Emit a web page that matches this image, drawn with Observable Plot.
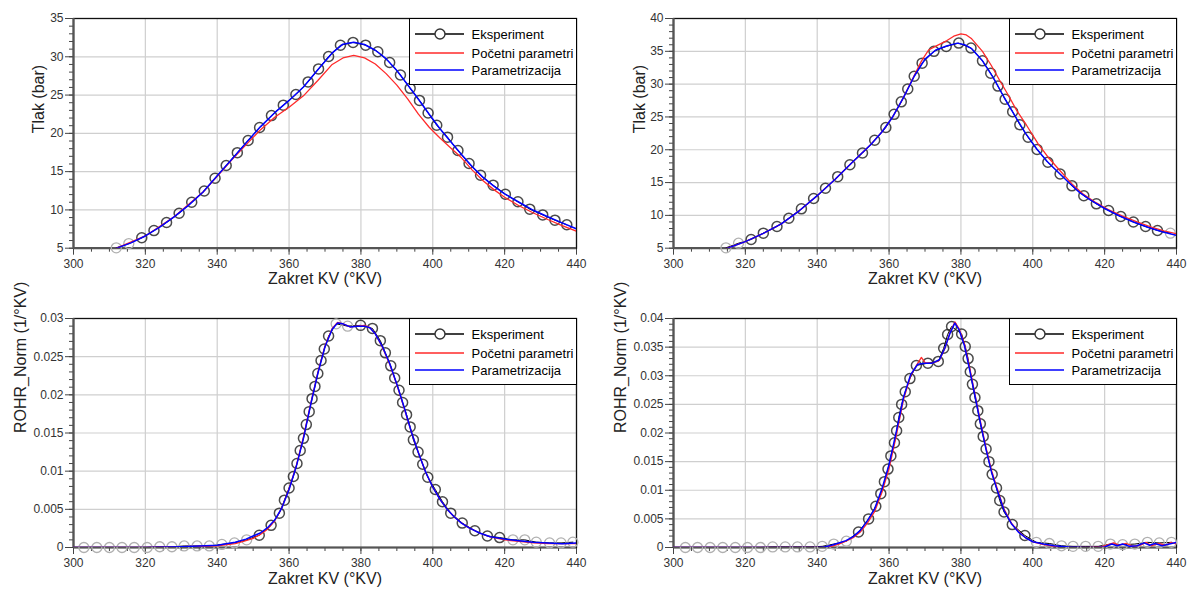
<!DOCTYPE html>
<html><head><meta charset="utf-8">
<script src="https://cdn.jsdelivr.net/npm/d3@7"></script>
<script src="https://cdn.jsdelivr.net/npm/@observablehq/plot@0.6"></script>
<style>
body{margin:0;background:#fff;font-family:"Liberation Sans",Arial,sans-serif;}
#root{position:relative;width:1189px;height:592px;overflow:hidden;background:#fff;}
.panel{position:absolute;}
.legend{position:absolute;border:1px solid #000;background:#fff;box-sizing:border-box;font-size:13px;color:#000;width:168px;height:67px;}
.legend .row{position:absolute;left:0;height:18px;display:flex;align-items:center;white-space:nowrap;}
.legend svg{display:block;margin-left:5px;margin-right:8px;}
</style></head><body><div id="root"></div><script>
// ---------- shared labels & ticks ----------
const seriesNames = ["Eksperiment", "Početni parametri", "Parametrizacija"];
const xLabel = "Zakret KV (°KV)";
const pressureLabel = "Tlak (bar)";
const rohrLabel = "ROHR_Norm (1/°KV)";
const xMajor = [300, 320, 340, 360, 380, 400, 420, 440];
const p1YTicks = [5, 10, 15, 20, 25, 30, 35];
const p2YTicks = [5, 10, 15, 20, 25, 30, 35, 40];
const p3YTicks = [0, 0.005, 0.01, 0.015, 0.02, 0.025, 0.03];
const p4YTicks = [0, 0.005, 0.01, 0.015, 0.02, 0.025, 0.03, 0.035, 0.04];

// ---------- panel 1: pressure, case A ----------
const p1Exp = [[319.0,6.36],[322.4,7.3],[325.9,8.36],[329.4,9.57],[332.9,11.0],[336.4,12.47],[339.4,14.14],[342.5,15.8],[345.6,17.48],[348.6,19.07],[351.8,20.76],[355.1,22.32],[358.4,23.68],[361.9,25.07],[365.3,26.72],[368.2,28.42],[371.0,30.04],[374.3,31.5],[377.8,31.88],[381.3,31.52],[384.7,30.65],[388.0,29.25],[391.0,27.62],[393.7,25.88],[396.3,24.3],[398.7,22.66],[401.1,21.06],[404.1,19.5],[407.0,17.76],[410.1,16.06],[413.3,14.53],[416.8,13.23],[420.2,12.05],[423.7,11.06],[427.0,10.1],[430.6,9.35],[434.0,8.66],[437.3,8.06]];
const p1ExpFaded = [[311.9,5.05],[315.4,5.6]];
const p1Initial = [[305,3.9],[312,5.0],[320,6.6],[328,9.1],[336,12.3],[340,14.4],[344,16.5],[348,18.5],[352,20.45],[356,22.1],[360,23.4],[364,24.9],[368,26.9],[372,29.0],[375,29.85],[378,30.17],[381,29.85],[384,29.05],[387,27.8],[390,26.3],[393,24.5],[396,22.5],[399,20.8],[402,19.4],[405,18.1],[408,16.8],[411,15.2],[414,13.8],[417,12.65],[420,11.65],[424,10.55],[428,9.6],[432,8.75],[436,7.95],[440,7.22]];
const p1Fit = [[305,3.9],[312,5.0],[316,5.7],[320,6.6],[324,7.75],[328,9.1],[332,10.6],[336,12.3],[340,14.45],[344,16.6],[348,18.75],[352,20.85],[356,22.7],[360,24.3],[364,26.05],[368,28.3],[372,30.5],[375,31.65],[378,31.9],[381,31.6],[384,30.85],[387,29.75],[390,28.2],[393,26.35],[396,24.45],[399,22.5],[402,20.6],[405,18.9],[408,17.25],[411,15.65],[414,14.25],[417,13.1],[420,12.1],[424,11.0],[428,9.95],[432,9.1],[436,8.3],[440,7.53]];

// ---------- panel 2: pressure, case B ----------
const p2Exp = [[321.6,6.33],[325.0,7.29],[328.8,8.31],[332.1,9.57],[335.6,11.0],[339.0,12.57],[342.3,14.14],[345.7,15.9],[349.1,17.72],[352.6,19.5],[356.0,21.45],[359.1,23.4],[361.4,25.4],[363.4,27.3],[365.2,29.25],[367.0,31.2],[369.2,33.2],[372.5,35.0],[375.9,35.75],[379.4,36.25],[382.8,35.5],[386.0,33.55],[388.3,31.65],[390.3,29.7],[392.3,27.7],[394.4,25.8],[396.4,23.8],[398.7,21.9],[401.2,20.05],[404.2,18.1],[407.6,16.3],[410.9,14.5],[414.2,13.0],[417.7,11.76],[421.1,10.74],[424.5,9.83],[428.0,9.0],[431.4,8.3],[434.7,7.7]];
const p2ExpFaded = [[314.6,5.06],[318.1,5.76],[438.3,7.29]];
const p2Initial = [[305,4.0],[315,5.0],[320,6.0],[325,7.25],[330,8.7],[335,10.7],[340,13.0],[345,15.5],[350,18.2],[355,20.85],[358,22.7],[361,25.0],[364,27.95],[367,31.3],[369,33.5],[371,35.2],[373,35.8],[376,36.6],[378,37.3],[380,37.65],[381.5,37.5],[383,36.9],[386,35.0],[388.5,32.8],[390.8,30.55],[393.2,28.3],[395.5,26.0],[398.3,23.7],[401.5,20.9],[404.2,18.9],[407.6,16.8],[410.9,14.8],[414,13.25],[417.7,11.9],[421,10.9],[425,9.9],[429,9.0],[433,8.2],[436.5,7.65],[440,7.2]];
const p2Fit = [[305,4.0],[315,5.0],[320,6.0],[325,7.25],[330,8.7],[335,10.7],[340,13.0],[345,15.5],[350,18.2],[355,20.85],[358,22.7],[361,25.0],[364,27.95],[367,31.2],[370,33.8],[373,35.2],[376,35.8],[379,36.25],[381,36.0],[383,35.4],[386,33.55],[389,31.0],[392,28.0],[395,25.2],[398,22.5],[401,20.2],[404,18.2],[407,16.6],[410,15.0],[413,13.5],[416,12.35],[420,11.05],[424,9.95],[428,9.0],[432,8.2],[436,7.5],[440,6.94]];

// ---------- panel 3: normalised ROHR, case A ----------
const p3Exp = [[351.7,0.0016],[355.0,0.0029],[357.3,0.0045],[358.7,0.0062],[360.0,0.0078],[361.2,0.0093],[362.2,0.011],[363.1,0.0127],[364.0,0.0143],[364.8,0.0161],[365.6,0.0178],[366.4,0.0195],[367.2,0.0211],[368.0,0.0228],[368.9,0.0245],[369.8,0.026],[371.0,0.0277],[379.9,0.0291],[383.2,0.0287],[385.4,0.0271],[386.8,0.0255],[388.3,0.0238],[389.4,0.0222],[390.6,0.0206],[391.6,0.019],[392.7,0.0174],[393.7,0.0158],[394.6,0.0141],[395.9,0.0125],[397.2,0.0109],[398.6,0.0092],[400.7,0.0076],[402.7,0.006],[405.0,0.0045],[408.2,0.0032],[411.7,0.0022],[415.2,0.0015],[418.6,0.0013]];
const p3ExpFaded = [[302.9,0],[306.5,0],[310.0,0],[313.5,0],[316.9,0],[320.5,0],[324.0,0.0001],[327.4,0.0001],[330.8,0.0002],[334.4,0.0002],[337.8,0.0002],[341.3,0.0004],[344.8,0.0006],[348.2,0.001],[373.1,0.0293],[376.3,0.029],[422.3,0.001],[425.6,0.001],[428.8,0.0007],[432.5,0.0006],[435.7,0.0006],[439.0,0.0007]];
const p3Initial = [[300,0],[320,0],[330,0.0001],[340,0.0002],[345,0.0005],[348,0.0009],[350,0.0012],[352,0.0017],[354,0.0024],[356,0.0035],[358,0.0052],[360,0.0077],[362,0.0107],[364,0.0145],[366,0.0188],[368,0.0229],[370,0.0264],[372,0.0287],[373.5,0.0295],[375,0.0293],[377,0.0289],[379,0.029],[381,0.0291],[382.5,0.0288],[384,0.028],[386,0.0262],[388,0.024],[390,0.0213],[392,0.0183],[394,0.0152],[396,0.0124],[398,0.0099],[400,0.0079],[402,0.0063],[404,0.005],[406,0.004],[408,0.0032],[410,0.0026],[413,0.0019],[416,0.0014],[420,0.001],[424,0.0008],[428,0.0006],[432,0.0005],[436,0.0005],[440,0.0005]];
const p3Fit = [[300,0],[320,0],[330,0.0001],[340,0.0003],[345,0.0007],[348,0.0011],[350,0.0015],[352,0.0019],[354,0.0026],[356,0.0036],[358,0.0052],[360,0.0076],[362,0.0106],[364,0.0143],[366,0.0187],[368,0.0228],[370,0.0263],[372,0.0286],[373.5,0.0294],[375,0.0293],[377,0.0289],[379,0.029],[381,0.029],[382.5,0.0288],[384,0.028],[386,0.0263],[388,0.0241],[390,0.0214],[392,0.0184],[394,0.0152],[396,0.0124],[398,0.0099],[400,0.0079],[402,0.0063],[404,0.005],[406,0.004],[408,0.0032],[410,0.0026],[413,0.0019],[416,0.0014],[420,0.0011],[424,0.0009],[428,0.0007],[432,0.0006],[436,0.0005],[440,0.0006]];

// ---------- panel 4: normalised ROHR, case B ----------
const p4Exp = [[351.5,0.0027],[354.3,0.005],[356.3,0.0072],[357.7,0.0094],[358.7,0.0115],[359.7,0.0137],[360.5,0.016],[361.5,0.0183],[362.1,0.0204],[362.7,0.0227],[363.5,0.025],[364.5,0.0272],[365.8,0.0295],[367.6,0.0318],[370.8,0.0322],[373.7,0.0325],[375.2,0.0348],[376.3,0.0372],[377.4,0.0386],[380.2,0.0373],[381.2,0.0351],[382.0,0.033],[382.6,0.0307],[383.2,0.0285],[383.9,0.0262],[384.7,0.0239],[385.4,0.0216],[386.2,0.0194],[387.0,0.0172],[387.8,0.015],[388.7,0.0128],[389.9,0.0104],[390.8,0.0082],[392.0,0.0062],[394.3,0.004],[397.8,0.0021]];
const p4ExpFaded = [[303.3,0],[306.7,0],[310.2,0],[313.7,0],[317.2,0],[320.6,0],[324.2,0],[327.6,0.0001],[331.1,0.0001],[334.5,0.0001],[338.0,0.0001],[341.4,0.0002],[344.6,0.0006],[348.1,0.0011],[401.0,0.0009],[404.6,0.0007],[408.0,0.0003],[411.2,0.0002],[414.7,0.0002],[418.2,0.0002],[421.6,0.0006],[425.0,0.0005],[428.4,0.0006],[431.9,0.0009],[435.2,0.0008],[438.6,0.0009]];
const p4Initial = [[300,0],[342,0],[344,0.0002],[346,0.0006],[348,0.0011],[350,0.0017],[352,0.0027],[354,0.0043],[356,0.0063],[358,0.0096],[360,0.0138],[362,0.0195],[364,0.0258],[366,0.03],[368,0.0322],[369,0.0332],[370,0.0323],[372,0.0322],[374,0.0327],[375.5,0.0347],[377,0.0376],[378.3,0.0394],[379.5,0.0382],[381,0.0355],[382.5,0.0312],[384,0.0265],[385.5,0.0218],[387,0.0174],[388.5,0.0135],[390,0.0105],[392,0.0067],[394,0.0043],[396,0.0028],[398,0.0017],[400,0.001],[403,0.0005],[406,0.0002],[410,0],[416,0],[419,0.0001],[421,0.0005],[422.5,0.0008],[424,0.0004],[426,0.0007],[428,0.0002],[430,0.0004],[431.5,0.0009],[433,0.0003],[435,0.0007],[437,0.0004],[438.5,0.0009],[440,0.0006]];
const p4Fit = [[300,0],[340,0],[342,0.0001],[344,0.0004],[346,0.0008],[348,0.0012],[350,0.0019],[352,0.003],[354,0.0047],[356,0.0068],[358,0.0102],[360,0.0145],[362,0.0202],[364,0.0262],[366,0.0302],[368,0.032],[370,0.0322],[372,0.0322],[374,0.0328],[375.5,0.0348],[377,0.0375],[378.3,0.0392],[379.5,0.038],[381,0.0352],[382.5,0.0308],[384,0.0262],[385.5,0.0215],[387,0.0171],[388.5,0.0132],[390,0.0102],[392,0.0065],[394,0.0042],[396,0.0027],[398,0.0017],[400,0.001],[403,0.0006],[406,0.0003],[410,0.0001],[414,0],[418,0],[420,0.0001],[422,0.0006],[423.5,0.0003],[425,0.0006],[427,0.0002],[429,0.0003],[431,0.0008],[432.5,0.0004],[434,0.0007],[436,0.0003],[438,0.0006],[440,0.0009]];

// ---------- drawing ----------
const FONT = '"Liberation Sans", Arial, Helvetica, sans-serif';
const xMinor = d3.range(300, 441, 5);
const fmtInt = d => String(d);
const fmtDec = d => d === 0 ? "0" : String(+d.toFixed(3));

function makePanel(cfg) {
  const {exp, faded, initial, fit, yDomain, yMajor, yMinorStep, yLabel, yLabelOffset, height, marginBottom, fmt} = cfg;
  const yMinor = d3.range(0, Math.round((yDomain[1] - yDomain[0]) / yMinorStep) + 1).map(i => +(yDomain[0] + i * yMinorStep).toFixed(4));
  const expLine = exp.concat(faded).sort((a, b) => a[0] - b[0]);
  const X = d => d[0], Y = d => d[1];
  return Plot.plot({
    width: 589, height,
    marginLeft: 73, marginRight: 13, marginTop: 18, marginBottom,
    x: {domain: [300, 440]},
    y: {domain: yDomain},
    style: {fontFamily: FONT, fontSize: "12px", color: "#333", background: "transparent", overflow: "visible"},
    marks: [
      Plot.gridX(xMajor, {stroke: "#cfcfcf", strokeOpacity: 1, strokeWidth: 1.2}),
      Plot.gridY(yMajor, {stroke: "#cfcfcf", strokeOpacity: 1, strokeWidth: 1.2}),
      Plot.axisX(xMinor, {tickSize: 4, fill: "none", stroke: "#444", label: null}),
      Plot.axisY(yMinor, {tickSize: 4, fill: "none", stroke: "#444", label: null}),
      Plot.axisX(xMajor, {tickSize: 7, tickPadding: 4, stroke: "#444", fill: "#333", label: null, tickFormat: fmtInt}),
      Plot.axisY(yMajor, {tickSize: 8, tickPadding: 2, stroke: "#444", fill: "#333", label: null, tickFormat: fmt}),
      Plot.frame({stroke: "#111", strokeWidth: 1.3}),
      Plot.ruleY([yDomain[0]], {stroke: "#555", strokeWidth: 2.2}),
      Plot.ruleX([300], {stroke: "#555", strokeWidth: 2.2}),
      Plot.line(expLine, {x: X, y: Y, stroke: "#000", strokeWidth: 1, clip: true}),
      Plot.dot(faded, {x: X, y: Y, r: 5, fill: "none", stroke: "#b0b0b0", strokeWidth: 1.3}),
      Plot.dot(exp, {x: X, y: Y, r: 5, fill: "none", stroke: "#2a2a2a", strokeWidth: 1.5, strokeOpacity: 0.85}),
      Plot.line(initial, {x: X, y: Y, stroke: "#ff2a2a", strokeWidth: 1.3, clip: true}),
      Plot.line(fit, {x: X, y: Y, stroke: "#0000ff", strokeWidth: 1.5, clip: true}),
      Plot.text([yLabel], {text: d => d, frameAnchor: "left", dx: -yLabelOffset, rotate: -90, fontSize: 16, fill: "#222"}),
      Plot.text([xLabel], {text: d => d, frameAnchor: "bottom", dy: 36, fontSize: 16, fill: "#222"})
    ]
  });
}

function makeLegend() {
  const colors = ["#000", "#ff2a2a", "#0000ff"];
  const tops = [6, 25, 42];
  const box = document.createElement("div");
  box.className = "legend";
  seriesNames.forEach((name, i) => {
    const row = document.createElement("div");
    row.className = "row";
    row.style.top = tops[i] + "px";
    const circle = i === 0 ? `<circle cx="25" cy="9" r="5" fill="#fff" stroke="#333" stroke-width="1.4"/>` : "";
    row.innerHTML = `<svg width="49" height="18"><line x1="0" x2="49" y1="9" y2="9" stroke="${colors[i]}" stroke-width="1.3"/>${circle}</svg><span>${name}</span>`;
    box.appendChild(row);
  });
  return box;
}

const root = document.getElementById("root");
const panels = [
  {left: 0, top: 0, cfg: {exp: p1Exp, faded: p1ExpFaded, initial: p1Initial, fit: p1Fit, yDomain: [5, 35], yMajor: p1YTicks, yMinorStep: 1, yLabel: pressureLabel, yLabelOffset: 35, height: 296, marginBottom: 48.3, fmt: fmtInt}},
  {left: 600, top: 0, cfg: {exp: p2Exp, faded: p2ExpFaded, initial: p2Initial, fit: p2Fit, yDomain: [5, 40], yMajor: p2YTicks, yMinorStep: 1, yLabel: pressureLabel, yLabelOffset: 34, height: 296, marginBottom: 48.3, fmt: fmtInt}},
  {left: 0, top: 300, cfg: {exp: p3Exp, faded: p3ExpFaded, initial: p3Initial, fit: p3Fit, yDomain: [0, 0.03], yMajor: p3YTicks, yMinorStep: 0.001, yLabel: rohrLabel, yLabelOffset: 52.5, height: 292, marginBottom: 45, fmt: fmtDec}},
  {left: 600, top: 300, cfg: {exp: p4Exp, faded: p4ExpFaded, initial: p4Initial, fit: p4Fit, yDomain: [0, 0.04], yMajor: p4YTicks, yMinorStep: 0.001, yLabel: rohrLabel, yLabelOffset: 53, height: 292, marginBottom: 45, fmt: fmtDec}}
];
panels.forEach(p => {
  const wrap = document.createElement("div");
  wrap.className = "panel";
  wrap.style.left = p.left + "px";
  wrap.style.top = p.top + "px";
  wrap.appendChild(makePanel(p.cfg));
  const leg = makeLegend();
  leg.style.left = "408.5px";
  leg.style.top = "18px";
  wrap.appendChild(leg);
  root.appendChild(wrap);
});
</script></body></html>
